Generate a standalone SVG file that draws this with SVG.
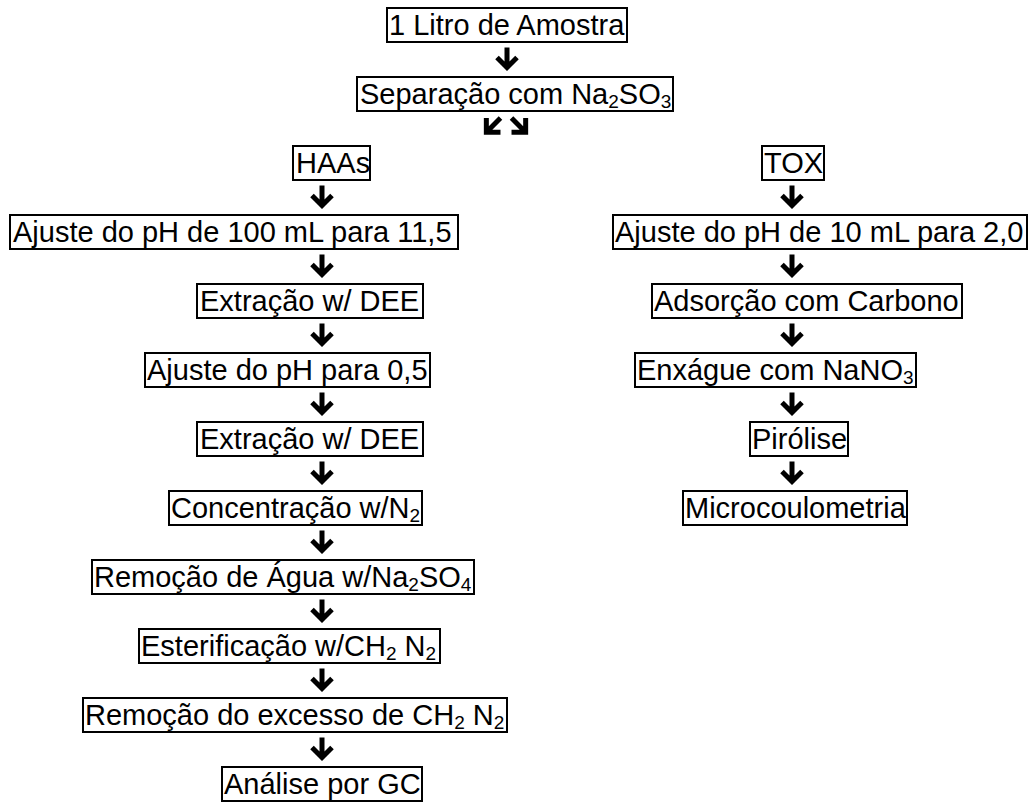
<svg xmlns="http://www.w3.org/2000/svg" xmlns:xlink="http://www.w3.org/1999/xlink" width="1035" height="802" viewBox="0 0 1035 802">
<style>
rect.box{fill:#fff;stroke:#000;stroke-width:2}
text{font-family:"Liberation Sans",Arial,sans-serif;font-size:29px;fill:#000}
.sub{font-size:19px}
</style>
<defs>
<path id="arr" d="M0,-12 V8 M-10,-2 L0,8 L10,-2" fill="none" stroke="#000" stroke-width="5" stroke-linejoin="miter"/>
</defs>
<rect width="1035" height="802" fill="#fff"/>
<g id="connectors">
<use xlink:href="#arr" transform="translate(507,59.5)"/>
<use xlink:href="#arr" transform="translate(492,126.5) rotate(45)"/>
<use xlink:href="#arr" transform="translate(520,126.5) rotate(-45)"/>
<use xlink:href="#arr" transform="translate(322,197.5)"/>
<use xlink:href="#arr" transform="translate(322,266.5)"/>
<use xlink:href="#arr" transform="translate(322,335.5)"/>
<use xlink:href="#arr" transform="translate(322,404.5)"/>
<use xlink:href="#arr" transform="translate(322,473.5)"/>
<use xlink:href="#arr" transform="translate(322,542.5)"/>
<use xlink:href="#arr" transform="translate(322,611.5)"/>
<use xlink:href="#arr" transform="translate(322,680.5)"/>
<use xlink:href="#arr" transform="translate(322,749.5)"/>
<use xlink:href="#arr" transform="translate(792,197.5)"/>
<use xlink:href="#arr" transform="translate(792,266.5)"/>
<use xlink:href="#arr" transform="translate(792,335.5)"/>
<use xlink:href="#arr" transform="translate(792,404.5)"/>
<use xlink:href="#arr" transform="translate(792,473.5)"/>
</g>
<g id="n-amostra"><rect class="box" x="387" y="8" width="240" height="34"/><text x="389" y="35">1 Litro de Amostra</text></g>
<g id="n-separacao"><rect class="box" x="357" y="77" width="316" height="34"/><text x="360" y="104">Separação com Na<tspan class="sub" dy="4">2</tspan><tspan dy="-4">SO</tspan><tspan class="sub" dy="4">3</tspan></text></g>
<g id="n-haas"><rect class="box" x="293" y="146" width="77" height="34"/><text x="296" y="173">HAAs</text></g>
<g id="n-tox"><rect class="box" x="762" y="146" width="62" height="34"/><text x="764" y="173">TOX</text></g>
<g id="n-l1"><rect class="box" x="10" y="215" width="448" height="34"/><text x="13" y="242">Ajuste do pH de 100 mL para 11,5</text></g>
<g id="n-l2"><rect class="box" x="197" y="284" width="226" height="34"/><text x="200" y="311">Extração w/ DEE</text></g>
<g id="n-l3"><rect class="box" x="145" y="353" width="285" height="34"/><text x="147" y="380">Ajuste do pH para 0,5</text></g>
<g id="n-l4"><rect class="box" x="197" y="422" width="226" height="34"/><text x="200" y="449">Extração w/ DEE</text></g>
<g id="n-l5"><rect class="box" x="169" y="491" width="253" height="34"/><text x="171" y="518">Concentração w/N<tspan class="sub" dy="4">2</tspan></text></g>
<g id="n-l6"><rect class="box" x="92" y="560" width="382" height="34"/><text x="94" y="587">Remoção de Água w/Na<tspan class="sub" dy="4">2</tspan><tspan dy="-4">SO</tspan><tspan class="sub" dy="4">4</tspan></text></g>
<g id="n-l7"><rect class="box" x="139" y="629" width="301" height="34"/><text x="141" y="656">Esterificação w/CH<tspan class="sub" dy="4">2</tspan><tspan dy="-4"> N</tspan><tspan class="sub" dy="4">2</tspan></text></g>
<g id="n-l8"><rect class="box" x="83" y="698" width="424" height="34"/><text x="85" y="725">Remoção do excesso de CH<tspan class="sub" dy="4">2</tspan><tspan dy="-4"> N</tspan><tspan class="sub" dy="4">2</tspan></text></g>
<g id="n-l9"><rect class="box" x="222" y="767" width="200" height="34"/><text x="224" y="794">Análise por GC</text></g>
<g id="n-r1"><rect class="box" x="613" y="215" width="414" height="34"/><text x="615" y="242">Ajuste do pH de 10 mL para 2,0</text></g>
<g id="n-r2"><rect class="box" x="652" y="284" width="310" height="34"/><text x="654" y="311">Adsorção com Carbono</text></g>
<g id="n-r3"><rect class="box" x="635" y="353" width="281" height="34"/><text x="637" y="380">Enxágue com NaNO<tspan class="sub" dy="4">3</tspan></text></g>
<g id="n-r4"><rect class="box" x="750" y="422" width="98" height="34"/><text x="752" y="449">Pirólise</text></g>
<g id="n-r5"><rect class="box" x="683" y="491" width="224" height="34"/><text x="685" y="518">Microcoulometria</text></g>
</svg>
